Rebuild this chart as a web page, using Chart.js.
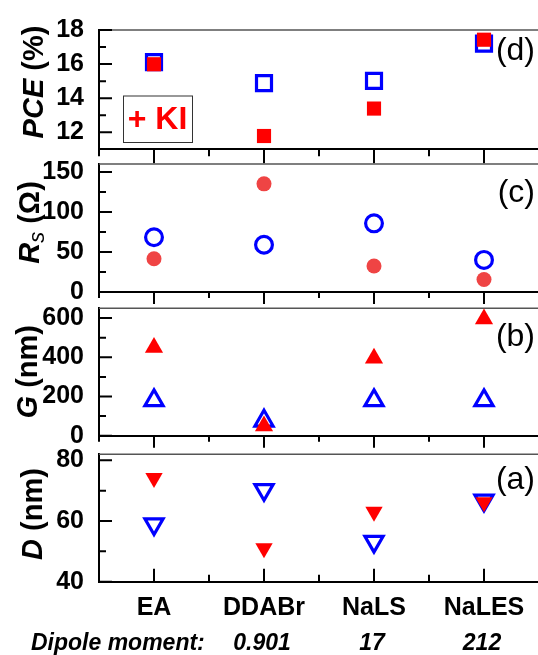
<!DOCTYPE html>
<html>
<head>
<meta charset="utf-8">
<script src="https://cdn.jsdelivr.net/npm/chart.js@4.4.1/dist/chart.umd.min.js"></script>
<style>
  html, body { margin: 0; padding: 0; background: #fff; overflow: hidden; }
  body { width: 538px; height: 655px; position: relative; }
  canvas { position: absolute; left: 0; top: 0; }
</style>
</head>
<body>
<canvas id="pce" width="541" height="655"></canvas>
<canvas id="rs" width="541" height="655"></canvas>
<canvas id="g" width="541" height="655"></canvas>
<canvas id="d" width="541" height="655"></canvas>
<script>
const categories = ['EA', 'DDABr', 'NaLS', 'NaLES'];
const dipoleMoments = ['', '0.901', '17', '212'];

// open blue = reference, filled red = + KI
const pceRef = [16.12, 14.88, 15.01, 17.2];
const pceKI  = [15.99, 11.78, 13.39, 17.43];
const rsRef  = [68.4, 59.1, 85.8, 40.1];
const rsKI   = [41.5, 135.2, 32.5, 15.6];
const gRef   = [180, 76, 180, 180];
const gKI    = [450, 50, 395, 595];
const dRef   = [59, 70.3, 53.2, 66.8];
const dKI    = [74.2, 51.0, 63.1, 66.2];

const FONT = '"Liberation Sans", Arial, sans-serif';
const BLUE = '#0000ff';
const RED = '#ff0000';

// ticks (inward on y, per-panel direction on x), frame top line, titles and labels
const panelDecor = {
  id: 'panelDecor',
  beforeDatasetsDraw(chart, args, o) {
    const { ctx, chartArea: ca, scales: { x, y } } = chart;
    ctx.save();
    ctx.strokeStyle = '#555';
    ctx.lineWidth = 1.5;
    ctx.beginPath();
    ctx.moveTo(ca.left, ca.top);
    ctx.lineTo(ca.right + 5, ca.top);
    ctx.stroke();

    ctx.strokeStyle = '#000';
    ctx.lineWidth = 2;
    ctx.beginPath();
    const major = y.ticks.map(t => t.value);
    const half = (major[1] - major[0]) / 2;
    major.forEach(v => {
      const p = y.getPixelForValue(v);
      ctx.moveTo(ca.left, p);
      ctx.lineTo(ca.left + 13, p);
    });
    for (let v = major[0] - half; v < y.max; v += 2 * half) {
      if (v <= y.min) continue;
      const p = y.getPixelForValue(v);
      ctx.moveTo(ca.left, p);
      ctx.lineTo(ca.left + 7, p);
    }
    const dir = o.xTicksDown ? 1 : -1;
    categories.forEach((c, i) => {
      const p = x.getPixelForValue(i);
      ctx.moveTo(p, ca.bottom);
      ctx.lineTo(p, ca.bottom + dir * o.xMajor);
    });
    for (let i = -0.5; i <= categories.length - 0.5; i++) {
      const p = x.getPixelForValue(i);
      ctx.moveTo(p, ca.bottom);
      ctx.lineTo(p, ca.bottom + dir * o.xMinor);
    }
    ctx.stroke();
    ctx.restore();
  },
  afterDraw(chart, args, o) {
    const { ctx, chartArea: ca, scales: { x } } = chart;
    ctx.save();
    ctx.fillStyle = '#000';

    // rotated y title made of styled pieces
    ctx.translate(o.titleX, o.titleY);
    ctx.rotate(-Math.PI / 2);
    ctx.textBaseline = 'alphabetic';
    ctx.textAlign = 'left';
    let total = 0;
    o.title.forEach(s => { ctx.font = s.font + ' ' + FONT; total += ctx.measureText(s.text).width; });
    let pos = -total / 2;
    o.title.forEach(s => {
      ctx.font = s.font + ' ' + FONT;
      ctx.fillText(s.text, pos, s.dy || 0);
      pos += ctx.measureText(s.text).width;
    });
    ctx.setTransform(1, 0, 0, 1, 0, 0);

    // panel letter
    ctx.font = '32px ' + FONT;
    ctx.textAlign = 'right';
    ctx.textBaseline = 'middle';
    ctx.fillText(o.letter, ca.right - 4, o.letterY);

    if (o.legend) {
      const L = o.legend;
      ctx.strokeStyle = '#333';
      ctx.lineWidth = 1;
      ctx.strokeRect(L.x + 0.5, L.y + 0.5, L.w, L.h);
      ctx.fillStyle = RED;
      ctx.font = 'bold 32px ' + FONT;
      ctx.textAlign = 'center';
      ctx.fillText(L.text, L.x + L.w / 2, L.y + L.h / 2 + 1);
    }

    if (o.dipole) {
      ctx.fillStyle = '#000';
      ctx.font = 'italic bold 23px ' + FONT;
      ctx.textAlign = 'left';
      ctx.textBaseline = 'middle';
      ctx.fillText('Dipole moment:', 31, 644);
      ctx.textAlign = 'center';
      dipoleMoments.forEach((t, i) => {
        if (t) ctx.fillText(t, x.getPixelForValue(i) - 2, 644);
      });
    }
    ctx.restore();
  }
};

function makePanel(id, p) {
  const xh = p.bottomAxis ? 50 : 0;
  return new Chart(document.getElementById(id), {
    type: 'line',
    data: {
      labels: categories,
      datasets: [
        {
          data: p.ki,
          showLine: false,
          pointStyle: p.style,
          rotation: p.rotation || 0,
          pointRadius: p.kiRadius,
          pointBackgroundColor: p.kiColor || RED,
          pointBorderWidth: 0,
          clip: false
        },
        {
          data: p.ref,
          showLine: false,
          pointStyle: p.style,
          rotation: p.rotation || 0,
          pointRadius: p.refRadius,
          pointBackgroundColor: 'rgba(0,0,0,0)',
          pointBorderColor: BLUE,
          pointBorderWidth: 3.2,
          clip: false
        }
      ]
    },
    options: {
      responsive: false,
      animation: false,
      events: [],
      layout: { autoPadding: false, padding: { top: p.top, bottom: 655 - p.bottom - xh, left: 0, right: 2 } },
      plugins: {
        legend: { display: false },
        tooltip: { enabled: false },
        panelDecor: p.decor
      },
      scales: {
        x: {
          type: 'category',
          offset: true,
          grid: { display: false, drawTicks: false },
          border: { display: true, color: '#000', width: 2 },
          ticks: {
            display: !!p.bottomAxis,
            autoSkip: false,
            maxRotation: 0,
            padding: 11,
            color: '#000',
            font: { family: FONT, size: 25, weight: 'bold' }
          },
          afterFit: s => { s.height = xh; }
        },
        y: {
          min: p.min,
          max: p.max,
          grid: { display: false, drawTicks: false },
          border: { display: true, color: '#000', width: 2 },
          ticks: {
            stepSize: p.step,
            includeBounds: false,
            autoSkip: false,
            padding: 15,
            color: '#000',
            font: { family: FONT, size: 25, weight: 'bold' }
          },
          afterFit: s => { s.width = 99; }
        }
      }
    },
    plugins: [panelDecor]
  });
}

makePanel('pce', {
  top: 22.7, bottom: 149.3, min: 11, max: 18, step: 2,
  ref: pceRef, ki: pceKI, style: 'rect', refRadius: 10.6, kiRadius: 10,
  decor: {
    xTicksDown: true, xMajor: 14, xMinor: 7,
    title: [{ text: 'PCE', font: 'italic bold 29px' }, { text: ' (%)', font: 'bold 29px' }],
    titleX: 43, titleY: 82,
    letter: '(d)', letterY: 51,
    legend: { text: '+ KI', x: 123, y: 95.5, w: 69, h: 46.5 }
  }
});

makePanel('rs', {
  top: 164, bottom: 292, min: 0, max: 160, step: 50,
  ref: rsRef, ki: rsKI, style: 'circle', refRadius: 8.4, kiRadius: 7.5, kiColor: '#ef4444',
  decor: {
    xTicksDown: true, xMajor: 12, xMinor: 6,
    title: [
      { text: 'R', font: 'italic bold 29px' },
      { text: 's', font: 'italic 22px', dy: 5 },
      { text: ' (\u03A9)', font: 'bold 29px' }
    ],
    titleX: 38.5, titleY: 222.5,
    letter: '(c)', letterY: 193
  }
});

makePanel('g', {
  top: 308.3, bottom: 435.7, min: 0, max: 650, step: 200,
  ref: gRef, ki: gKI, style: 'triangle', refRadius: 10.5, kiRadius: 10.5,
  decor: {
    xTicksDown: true, xMajor: 12, xMinor: 6,
    title: [{ text: 'G', font: 'italic bold 29px' }, { text: ' (nm)', font: 'bold 29px' }],
    titleX: 37, titleY: 371.7,
    letter: '(b)', letterY: 337
  }
});

makePanel('d', {
  top: 454.3, bottom: 581.7, min: 40, max: 82, step: 20,
  ref: dRef, ki: dKI, style: 'triangle', rotation: 180, refRadius: 10.5, kiRadius: 10,
  bottomAxis: true,
  decor: {
    xTicksDown: false, xMajor: 13, xMinor: 7,
    title: [{ text: 'D', font: 'italic bold 29px' }, { text: ' (nm)', font: 'bold 29px' }],
    titleX: 42, titleY: 514,
    letter: '(a)', letterY: 480,
    dipole: true
  }
});
</script>
</body>
</html>
